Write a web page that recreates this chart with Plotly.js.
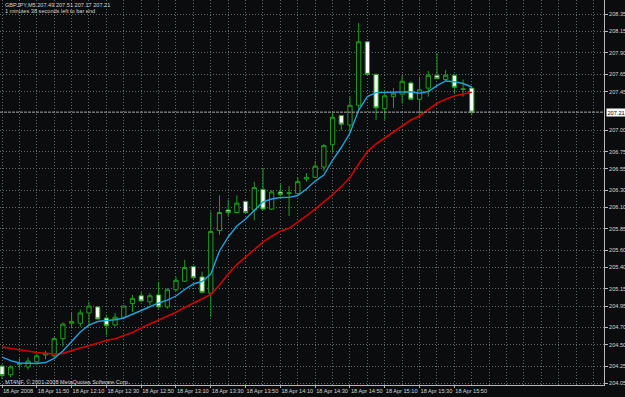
<!DOCTYPE html>
<html><head><meta charset="utf-8">
<script src="https://cdn.plot.ly/plotly-3.0.1.min.js"></script>
<style>html,body{margin:0;padding:0;background:#0b0c0e;overflow:hidden}#chart{width:625px;height:397px}</style>
</head><body><div id="chart"></div>
<script>
// Bar index (M5 bars from 18 Apr 11:30)
const bars = Array.from({length:55}, (_, i) => i);
const openP  = [204.25,204.15,204.27,204.24,204.30,204.38,204.37,204.57,204.75,204.75,204.87,204.94,204.81,204.73,204.82,204.98,205.07,205.00,205.08,204.94,205.14,205.24,205.41,205.29,205.10,205.83,206.07,206.04,206.17,206.07,206.31,206.08,206.28,206.26,206.26,206.43,206.45,206.57,206.83,207.17,207.06,207.29,208.03,207.65,207.25,207.39,207.42,207.55,207.36,207.49,207.64,207.59,207.64,207.475,207.49];
const highP  = [204.27,204.26,204.34,204.35,204.39,204.43,204.59,204.76,204.87,204.91,205.00,204.95,204.85,204.87,204.96,205.08,205.11,205.10,205.23,205.16,205.29,205.49,205.42,205.35,206.05,206.24,206.19,206.24,206.18,206.40,206.56,206.30,206.37,206.35,206.45,206.50,206.64,206.84,207.20,207.18,207.39,208.25,208.04,207.66,207.46,207.49,207.64,207.57,207.62,207.69,207.90,207.70,207.65,207.59,207.51];
const lowP   = [204.10,204.12,204.22,204.21,204.27,204.33,204.35,204.48,204.69,204.71,204.71,204.79,204.61,204.71,204.80,204.88,205.00,204.96,204.92,204.92,205.12,205.23,205.27,205.10,204.82,205.78,206.00,206.03,206.03,205.95,206.07,206.07,206.23,206.00,206.25,206.40,206.44,206.52,206.74,207.00,206.98,207.24,207.64,207.12,207.12,207.26,207.31,207.35,207.19,207.39,207.60,207.57,207.43,207.39,207.17];
const closeP = [204.14,204.24,204.28,204.31,204.37,204.40,204.57,204.74,204.77,204.87,204.95,204.80,204.72,204.82,204.95,205.04,205.01,205.07,204.94,205.14,205.25,205.40,205.28,205.11,205.82,206.04,206.04,206.15,206.04,206.33,206.08,206.28,206.25,206.27,206.40,206.45,206.58,206.82,207.15,207.07,207.29,208.03,207.65,207.26,207.40,207.43,207.57,207.36,207.47,207.64,207.60,207.64,207.50,207.48,207.21];
// Fast (blue) and slow (red) moving averages
const maFast = [204.356,204.315,204.286,204.280,204.280,204.292,204.339,204.426,204.543,204.648,204.729,204.770,204.782,204.791,204.811,204.857,204.904,204.942,204.986,205.020,205.067,205.143,205.207,205.236,205.324,205.592,205.755,205.883,205.965,206.069,206.163,206.198,206.215,206.217,206.238,206.314,206.407,206.477,206.652,206.798,206.967,207.235,207.392,207.437,207.441,207.441,207.448,207.448,207.430,207.451,207.520,207.573,207.565,207.544,207.503];
const maSlow = [204.473,204.455,204.438,204.423,204.409,204.399,204.391,204.399,204.432,204.461,204.488,204.519,204.548,204.568,204.601,204.642,204.694,204.739,204.782,204.826,204.878,204.933,204.986,205.034,205.085,205.195,205.324,205.434,205.525,205.607,205.696,205.763,205.821,205.856,205.924,206.000,206.081,206.163,206.250,206.341,206.448,206.606,206.751,206.839,206.909,206.982,207.052,207.118,207.165,207.235,207.313,207.360,207.398,207.421,207.441];
// Axis labels
const timeTickBars = [0,4,8,12,16,20,24,28,32,36,40,44,48,52];
const timeTickText = ["18 Apr 2008","18 Apr 11:50","18 Apr 12:10","18 Apr 12:30","18 Apr 12:50","18 Apr 13:10","18 Apr 13:30","18 Apr 13:50","18 Apr 14:10","18 Apr 14:30","18 Apr 14:50","18 Apr 15:10","18 Apr 15:30","18 Apr 15:50"];
const priceTicks = [208.35,208.15,207.90,207.65,207.45,207.00,206.75,206.55,206.30,206.10,205.85,205.60,205.40,205.15,204.95,204.70,204.50,204.25,204.05];
const lastPrice = 207.21;
const headerText = "GBPJPY,M5 207.49 207.51 207.17 207.21";
const timerText = "1 minutes 38 seconds left to bar end";
const copyrightText = "MT4NF, \u00a9 2001-2008 MetaQuotes Software Corp.";

const green = '#1f9e1f';
const fnt = {family:'Liberation Sans, Arial, sans-serif', size:5.6, color:'#d4d4d4'};
const gridCol = '#5d6a6a';

const traces = [
  {type:'candlestick', x:bars, open:openP, high:highP, low:lowP, close:closeP,
   increasing:{line:{color:green,width:1}, fillcolor:'#0b0c0e'},
   decreasing:{line:{color:green,width:1}, fillcolor:'#ffffff'},
   whiskerwidth:0, hoverinfo:'skip', showlegend:false},
  {type:'scatter', mode:'lines', x:bars, y:maSlow, line:{color:'#d10000',width:1.6}, hoverinfo:'skip', showlegend:false},
  {type:'scatter', mode:'lines', x:bars, y:maFast, line:{color:'#1ea2dc',width:1.4}, hoverinfo:'skip', showlegend:false}
];

const layout = {
  width:625, height:397,
  margin:{l:0, r:21, t:0, b:12},
  paper_bgcolor:'#0b0c0e', plot_bgcolor:'#0b0c0e',
  showlegend:false, hovermode:false, boxgap:0.3,
  font:fnt,
  xaxis:{range:[-0.23,69.2], autorange:false, rangeslider:{visible:false},
    tickmode:'array', tickvals:timeTickBars, ticktext:timeTickText, tickangle:0,
    ticklabelposition:'outside right', ticks:'outside', ticklen:2, tickcolor:'#aaaaaa',
    tickfont:fnt, showgrid:true, gridcolor:gridCol, griddash:'1px,2px', gridwidth:1,
    minor:{tickmode:'linear', tick0:0, dtick:2, showgrid:true, gridcolor:gridCol, griddash:'1px,2px', ticks:''},
    showline:true, linecolor:'#b8b8b8', linewidth:1, zeroline:false, fixedrange:true},
  yaxis:{range:[204.030,208.517], autorange:false, side:'right',
    tickmode:'array', tickvals:priceTicks, ticktext:priceTicks.map(v=>v.toFixed(2)),
    ticks:'outside', ticklen:3, tickcolor:'#bbbbbb', tickfont:fnt,
    showgrid:true, gridcolor:gridCol, griddash:'1px,2px', gridwidth:1,
    showline:true, mirror:true, linecolor:'#b8b8b8', linewidth:1, zeroline:false, fixedrange:true},
  shapes:[{type:'line', xref:'paper', x0:0, x1:1, yref:'y', y0:lastPrice, y1:lastPrice,
    line:{color:'#a8a8a8', width:1, dash:'3px,1px'}}],
  annotations:[
    {xref:'paper', yref:'paper', x:0.005, y:0.987, xanchor:'left', yanchor:'middle', text:headerText, showarrow:false, font:fnt},
    {xref:'paper', yref:'paper', x:0.005, y:0.971, xanchor:'left', yanchor:'middle', text:timerText, showarrow:false, font:fnt},
    {xref:'paper', yref:'paper', x:0.005, y:0.008, xanchor:'left', yanchor:'middle', text:copyrightText, showarrow:false, font:fnt},
    {xref:'paper', yref:'y', x:1, y:lastPrice, xanchor:'left', yanchor:'middle', xshift:2, text:lastPrice.toFixed(2), showarrow:false,
     bgcolor:'#ffffff', borderpad:0.5, font:{family:fnt.family, size:5.6, color:'#000000'}}
  ]
};
Plotly.newPlot('chart', traces, layout, {displayModeBar:false, staticPlot:true});
</script></body></html>
